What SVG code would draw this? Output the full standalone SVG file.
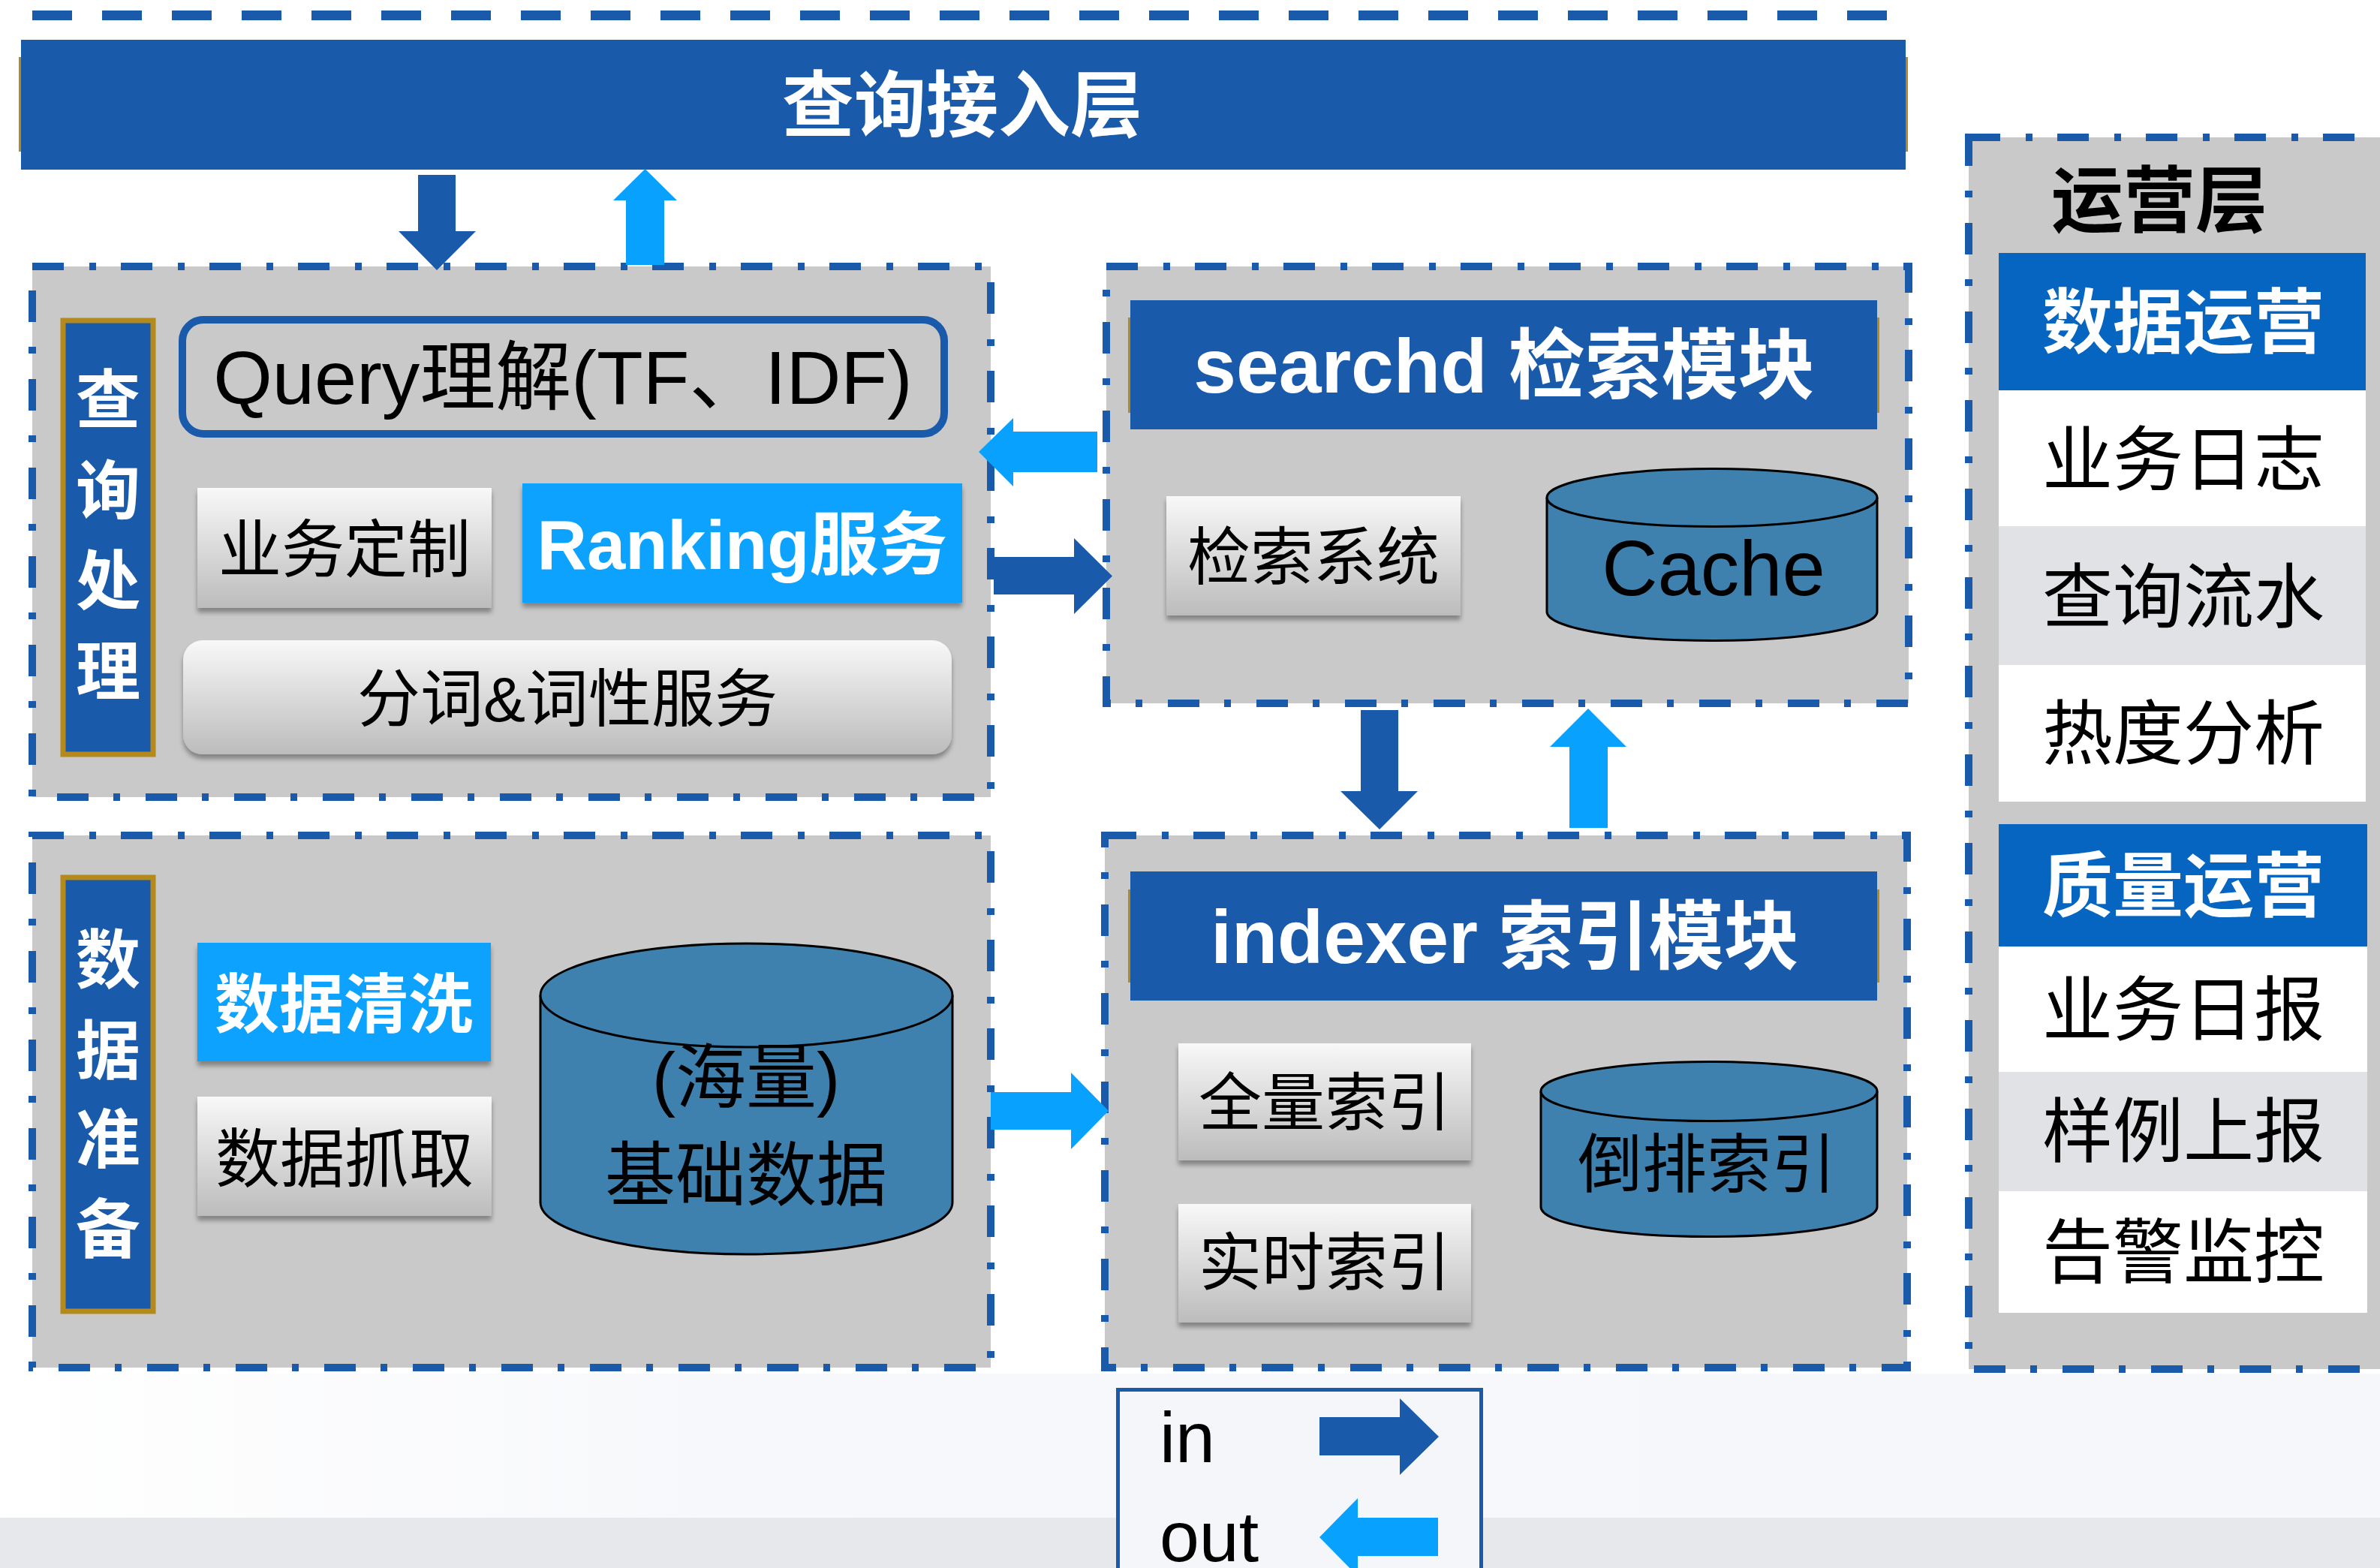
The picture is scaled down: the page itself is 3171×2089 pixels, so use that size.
<svg xmlns="http://www.w3.org/2000/svg" width="3171" height="2089" viewBox="0 0 3171 2089">
<style>
.f{font-family:"Liberation Sans","Noto Sans CJK SC",sans-serif}
.panel{fill:#C9C9C9;stroke:#1A5AAB;stroke-width:10;stroke-dasharray:42 34 9 33}
.hdr{fill:#1A5AAB}
.gold{fill:#B58A1C}
.lbl{fill:#1A5AAB;stroke:#B58A1C;stroke-width:7}
.btn{fill:url(#gr);filter:url(#sh)}
.cyl{fill:#3F81AE;stroke:#000;stroke-width:3}
.lt{fill:#08A2FE}
.dk{fill:#1A5AAB}
.w{fill:#fff}
.b{fill:#000}
.bold{font-weight:bold}
.opsh{fill:#0565C0}
.alt{fill:#E1E2E6}
</style>
<defs>
<linearGradient id="gr" x1="0" y1="0" x2="0" y2="1">
<stop offset="0" stop-color="#F8F8F8"/>
<stop offset="1" stop-color="#BCBCBC"/>
</linearGradient>
<linearGradient id="bg" x1="0" y1="0" x2="1" y2="0">
<stop offset="0" stop-color="#FFFFFF"/>
<stop offset="0.3" stop-color="#F7F8FB"/>
<stop offset="1" stop-color="#F6F7FA"/>
</linearGradient>
<filter id="sh" x="-5%" y="-10%" width="110%" height="130%">
<feDropShadow dx="0" dy="6" stdDeviation="3" flood-color="#000" flood-opacity="0.35"/>
</filter>
</defs>
<rect width="3171" height="2089" fill="#FFFFFF"/>
<rect x="0" y="1830" width="3171" height="192" fill="url(#bg)"/>
<rect x="0" y="2022" width="3171" height="67" fill="#E7E8EC"/>

<line x1="43" y1="20.5" x2="2522" y2="20.5" stroke="#1A5AAB" stroke-width="13" stroke-dasharray="53 40"/>

<g id="access-layer">
<rect class="gold" x="25" y="76" width="2517" height="126"/>
<rect class="hdr" x="28" y="53" width="2511" height="173"/>
<text class="f w bold" x="1282" y="174" font-size="96" text-anchor="middle">查询接入层</text>
</g>

<g id="query-panel">
<rect class="panel" x="43" y="355" width="1277" height="707"/>
<rect class="lbl" x="84" y="427" width="120" height="578"/>
<text class="f w bold" font-size="86" text-anchor="middle"><tspan x="144" y="564">查</tspan><tspan x="144" y="685">询</tspan><tspan x="144" y="805">处</tspan><tspan x="144" y="926">理</tspan></text>
</g>
<g id="query-understanding">
<rect x="243" y="426" width="1015" height="152" rx="28" fill="none" stroke="#1A5AAB" stroke-width="10"/>
<text class="f b" x="750" y="538" font-size="101" text-anchor="middle">Query理解(TF、IDF)</text>
</g>
<g id="biz-custom">
<rect class="btn" x="263" y="650" width="392" height="160"/>
<text class="f b" x="459" y="762" font-size="84" text-anchor="middle">业务定制</text>
</g>
<g id="ranking">
<rect class="lt" x="696" y="644" width="586" height="159" filter="url(#sh)"/>
<text class="f w bold" x="989" y="758" font-size="92" text-anchor="middle">Ranking服务</text>
</g>
<g id="segmentation">
<rect class="btn" x="244" y="853" width="1024" height="152" rx="26"/>
<text class="f b" x="756" y="961" font-size="84" text-anchor="middle">分词&amp;词性服务</text>
</g>

<g id="searchd-panel">
<rect class="panel" x="1474" y="355" width="1069" height="582"/>
<rect class="gold" x="1503" y="423" width="1001" height="127"/>
<rect class="hdr" x="1506" y="400" width="995" height="172"/>
<text class="f w bold" x="2004" y="523" font-size="102" text-anchor="middle">searchd 检索模块</text>
</g>
<g id="search-system">
<rect class="btn" x="1554" y="661" width="392" height="159"/>
<text class="f b" x="1750" y="772" font-size="84" text-anchor="middle">检索系统</text>
</g>
<g id="cache">
<path class="cyl" d="M2061,663 L2061,815 A220,38.5 0 0 0 2501,815 L2501,663"/>
<ellipse class="cyl" cx="2281" cy="663" rx="220" ry="38.5"/>
<text class="f b" x="2283" y="793" font-size="103" text-anchor="middle">Cache</text>
</g>

<g id="data-panel">
<rect class="panel" x="43" y="1113" width="1277" height="709"/>
<rect class="lbl" x="84" y="1169" width="120" height="578"/>
<text class="f w bold" font-size="86" text-anchor="middle"><tspan x="144" y="1310">数</tspan><tspan x="144" y="1431">据</tspan><tspan x="144" y="1549">准</tspan><tspan x="144" y="1669">备</tspan></text>
</g>
<g id="data-cleaning">
<rect class="lt" x="263" y="1256" width="391" height="158" filter="url(#sh)"/>
<text class="f w bold" x="458" y="1369" font-size="86" text-anchor="middle">数据清洗</text>
</g>
<g id="data-crawl">
<rect class="btn" x="263" y="1461" width="392" height="159"/>
<text class="f b" x="459" y="1575" font-size="86" text-anchor="middle">数据抓取</text>
</g>
<g id="base-data">
<path class="cyl" d="M720,1326 L720,1602 A274.5,69 0 0 0 1269,1602 L1269,1326"/>
<ellipse class="cyl" cx="994.5" cy="1326" rx="274.5" ry="69"/>
<text class="f b" x="994" y="1469" font-size="94" text-anchor="middle">(海量)</text>
<text class="f b" x="994" y="1599" font-size="94" text-anchor="middle">基础数据</text>
</g>

<g id="indexer-panel">
<rect class="panel" x="1472" y="1113" width="1069" height="709"/>
<rect class="gold" x="1503" y="1185" width="1001" height="124"/>
<rect class="hdr" x="1506" y="1161" width="995" height="172"/>
<text class="f w bold" x="2005" y="1283" font-size="100" text-anchor="middle">indexer 索引模块</text>
</g>
<g id="full-index">
<rect class="btn" x="1570" y="1390" width="390" height="156"/>
<text class="f b" x="1765" y="1499" font-size="84" text-anchor="middle">全量索引</text>
</g>
<g id="realtime-index">
<rect class="btn" x="1570" y="1604" width="390" height="158"/>
<text class="f b" x="1765" y="1712" font-size="84" text-anchor="middle">实时索引</text>
</g>
<g id="inverted-index">
<path class="cyl" d="M2053,1454 L2053,1608 A224,39.5 0 0 0 2501,1608 L2501,1454"/>
<ellipse class="cyl" cx="2277" cy="1454" rx="224" ry="39.5"/>
<text class="f b" x="2274" y="1582" font-size="86" text-anchor="middle">倒排索引</text>
</g>

<g id="ops-panel">
<rect class="panel" x="2623" y="183" width="620" height="1641"/>
<text class="f b bold" x="2877" y="301" font-size="96" text-anchor="middle">运营层</text>
</g>
<g id="data-ops">
<rect class="opsh" x="2663" y="337" width="489" height="183"/>
<text class="f w bold" x="2909" y="463" font-size="94" text-anchor="middle">数据运营</text>
<rect fill="#FFFFFF" x="2663" y="520" width="489" height="181"/>
<text class="f b" x="2909" y="646" font-size="94" text-anchor="middle">业务日志</text>
<rect class="alt" x="2663" y="701" width="489" height="185"/>
<text class="f b" x="2909" y="829" font-size="94" text-anchor="middle">查询流水</text>
<rect fill="#FFFFFF" x="2663" y="886" width="489" height="182"/>
<text class="f b" x="2909" y="1011" font-size="94" text-anchor="middle">热度分析</text>
</g>
<g id="quality-ops">
<rect class="opsh" x="2663" y="1098" width="491" height="163"/>
<text class="f w bold" x="2909" y="1214" font-size="94" text-anchor="middle">质量运营</text>
<rect fill="#FFFFFF" x="2663" y="1261" width="491" height="167"/>
<text class="f b" x="2909" y="1379" font-size="94" text-anchor="middle">业务日报</text>
<rect class="alt" x="2663" y="1428" width="491" height="159"/>
<text class="f b" x="2909" y="1541" font-size="94" text-anchor="middle">样例上报</text>
<rect fill="#FFFFFF" x="2663" y="1587" width="491" height="162"/>
<text class="f b" x="2909" y="1702" font-size="94" text-anchor="middle">告警监控</text>
</g>

<g id="connectors">
<polygon class="dk" points="557,233 607,233 607,308 634,308 582,360 531,308 557,308"/>
<polygon class="lt" points="834,353 834,267 817,267 859.5,225 902,267 885,267 885,353"/>
<polygon class="lt" points="1462,575 1350,575 1350,557 1304,602 1350,648 1350,629 1462,629"/>
<polygon class="dk" points="1324,742 1431,742 1431,717 1482,767.5 1431,818 1431,792 1324,792"/>
<polygon class="dk" points="1813,946 1863,946 1863,1054 1889,1054 1838,1105 1786,1054 1813,1054"/>
<polygon class="lt" points="2091,1103 2091,995 2065,995 2116,944 2167,995 2142,995 2142,1103"/>
<polygon class="lt" points="1320,1455 1427,1455 1427,1429 1477,1480 1427,1531 1427,1505 1320,1505"/>
</g>

<g id="legend">
<rect x="1489.5" y="1851.5" width="484" height="260" fill="#F5F6FA" stroke="#1A5AAB" stroke-width="5"/>
<text class="f b" x="1545" y="1948" font-size="95">in</text>
<polygon class="dk" points="1758,1888 1865,1888 1865,1863 1917,1914 1865,1965 1865,1939 1758,1939"/>
<text class="f b" x="1545" y="2080" font-size="95">out</text>
<polygon class="lt" points="1916,2022 1809,2022 1809,1996 1758,2048 1809,2100 1809,2073 1916,2073"/>
</g>
</svg>
